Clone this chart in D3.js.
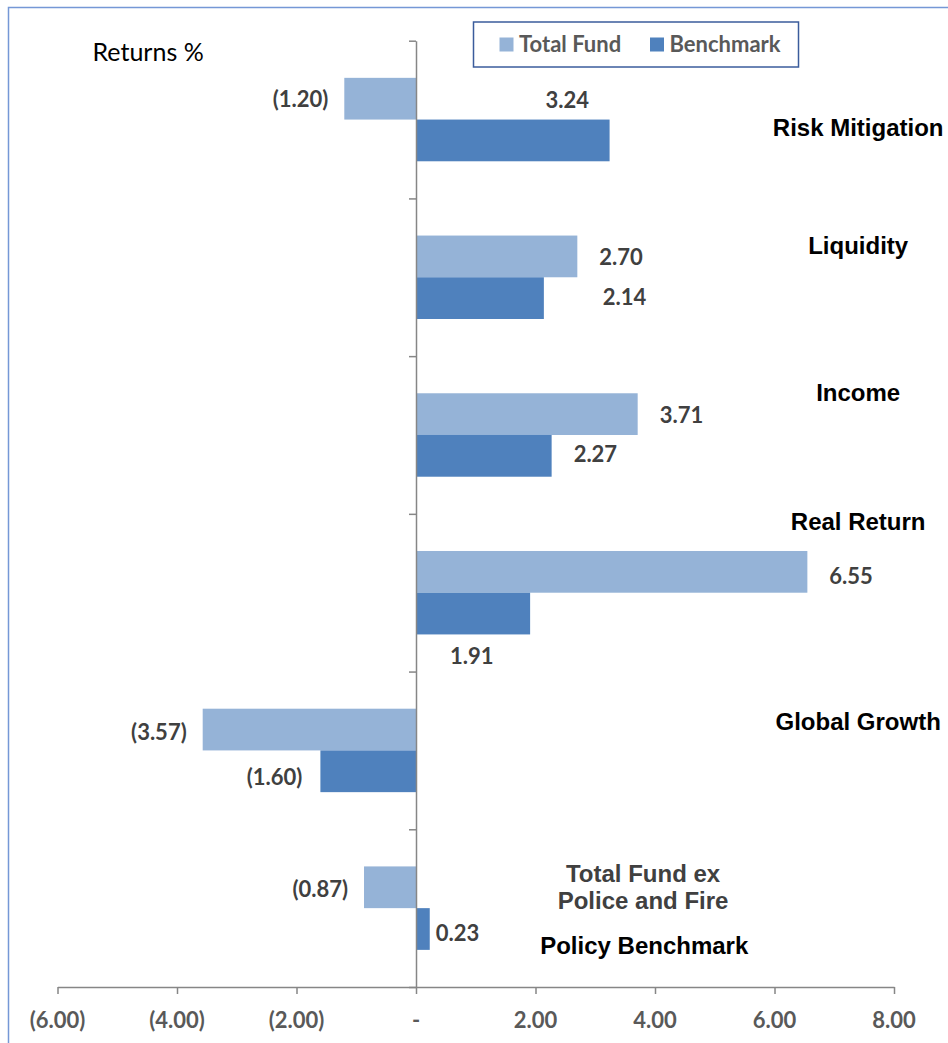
<!DOCTYPE html>
<html>
<head>
<meta charset="utf-8">
<script src="https://cdn.jsdelivr.net/npm/d3@7/dist/d3.min.js"></script>
<style>
  html, body { margin: 0; padding: 0; background: #fff; }
  svg { display: block; }
  .axis path, .axis line { stroke: #868686; stroke-width: 1.5; }
  .tick-label { font-family: Lato, sans-serif; font-weight: bold; font-size: 22px; fill: #595959; }
  .val-label { font-family: Lato, sans-serif; font-weight: bold; font-size: 22px; fill: #404040; }
  .cat-label { font-family: "Liberation Sans", Arial, sans-serif; font-weight: bold; font-size: 24px; fill: #000; }
</style>
</head>
<body>
<div id="chart"></div>
<script>
// Data.
var categories = ['Risk Mitigation', 'Liquidity', 'Income', 'Real Return', 'Global Growth', 'Total Fund ex Police and Fire'];
var totalFund = [-1.20, 2.70, 3.71, 6.55, -3.57, -0.87];
var benchmark = [3.24, 2.14, 2.27, 1.91, -1.60, 0.23];
var seriesNames = ['Total Fund', 'Benchmark'];
var xTicks = [-6, -4, -2, 0, 2, 4, 6, 8];

// Hand placed label nudges (the original has manually moved labels).
var tfLabelShift = [[-16, 1], [22, 1], [22, 1], [22, 4], [-16, 3], [-16, 2]];
var bmLabelShift = [[-64, -40], [59, -1], [22, -2], [-80, 43], [-18, 6], [6, 4]];
var catLabelDy = [8, -32, -42, -71, -29, -35];

var colors = {'Total Fund': '#95B3D7', 'Benchmark': '#4F81BD'};

var width = 948, height = 1043;
var svg = d3.select('#chart').append('svg')
    .attr('width', width)
    .attr('height', height);

// Chart frame (runs off the right and bottom of the picture).
svg.append('rect')
    .attr('x', 8.5).attr('y', 7.5)
    .attr('width', 1000).attr('height', 1100)
    .attr('fill', 'none')
    .attr('stroke', '#7598D6')
    .attr('stroke-width', 1.5);

var x = d3.scaleLinear().domain([-6, 8]).range([57.5, 894]);
var y0 = d3.scaleBand().domain(categories).range([40.7, 987]).paddingInner(0).paddingOuter(0);
var y1 = d3.scaleBand().domain(seriesNames).range([0, y0.bandwidth()]).paddingInner(0).paddingOuter(0.89);

var fmt = function(v) {
    if (v === 0) return '-';
    var s = d3.format('.2f')(Math.abs(v));
    return v < 0 ? '(' + s + ')' : s;
};

// Bars.
var rows = categories.map(function(c, i) {
    return {cat: c, i: i, values: [
        {series: 'Total Fund', value: totalFund[i], shift: tfLabelShift[i]},
        {series: 'Benchmark', value: benchmark[i], shift: bmLabelShift[i]}
    ]};
});

var groups = svg.selectAll('g.cat')
    .data(rows)
    .enter().append('g')
    .attr('class', 'cat')
    .attr('transform', function(d) { return 'translate(0,' + y0(d.cat) + ')'; });

groups.selectAll('rect')
    .data(function(d) { return d.values; })
    .enter().append('rect')
    .attr('x', function(d) { return x(Math.min(0, d.value)); })
    .attr('y', function(d) { return y1(d.series); })
    .attr('width', function(d) { return Math.abs(x(d.value) - x(0)); })
    .attr('height', y1.bandwidth())
    .attr('fill', function(d) { return colors[d.series]; });

groups.selectAll('text.val-label')
    .data(function(d) { return d.values; })
    .enter().append('text')
    .attr('class', 'val-label')
    .attr('x', function(d) { return x(d.value) + d.shift[0]; })
    .attr('y', function(d) { return y1(d.series) + y1.bandwidth() / 2 + d.shift[1] + 7.8; })
    .attr('text-anchor', function(d) { return d.value < 0 ? 'end' : 'start'; })
    .text(function(d) { return fmt(d.value); });

// Category labels on the right.
var lastCat = categories.length - 1;
groups.append('text')
    .attr('class', 'cat-label')
    .attr('text-anchor', 'middle')
    .attr('x', function(d) { return d.i === lastCat ? x(3.8) : x(7.4); })
    .attr('y', function(d) { return y0.bandwidth() / 2 + catLabelDy[d.i] + 8.5; })
    .style('fill', function(d) { return d.i === lastCat ? '#404040' : '#000'; })
    .each(function(d) {
        var t = d3.select(this);
        var lines = d.i === lastCat ? ['Total Fund ex', 'Police and Fire'] : [d.cat];
        lines.forEach(function(l, k) {
            t.append('tspan')
                .attr('x', t.attr('x'))
                .attr('dy', k === 0 ? 0 : 27.4)
                .text(l);
        });
    });

// Policy benchmark note under the last category.
svg.append('text')
    .attr('class', 'cat-label')
    .attr('text-anchor', 'middle')
    .attr('x', x(3.82))
    .attr('y', y0(categories[lastCat]) + y0.bandwidth() / 2 + 37 + 8.5)
    .text('Policy Benchmark');

// X axis.
var xAxis = d3.axisBottom(x)
    .tickValues(xTicks)
    .tickSize(7)
    .tickSizeOuter(0)
    .tickFormat('');
svg.append('g')
    .attr('class', 'axis')
    .attr('transform', 'translate(0,' + y0.range()[1] + ')')
    .call(xAxis);

svg.selectAll('text.tick-label')
    .data(xTicks)
    .enter().append('text')
    .attr('class', 'tick-label')
    .attr('x', function(d) { return x(d); })
    .attr('y', 1027.5)
    .attr('text-anchor', 'middle')
    .text(fmt);

// Vertical axis at zero, ticks at the category boundaries.
var yEdges = d3.scaleLinear().domain([0, categories.length]).range(y0.range());
var yAxis = d3.axisLeft(yEdges)
    .ticks(categories.length)
    .tickSize(7)
    .tickSizeOuter(0)
    .tickFormat('');
svg.append('g')
    .attr('class', 'axis')
    .attr('transform', 'translate(' + x(0) + ',0)')
    .call(yAxis);

// Axis title.
svg.append('text')
    .attr('x', 92.5)
    .attr('y', 60.5)
    .style('font-family', 'Lato, sans-serif')
    .style('font-size', '25px')
    .style('fill', '#000')
    .text('Returns %');

// Legend.
var legend = svg.append('g');
legend.append('rect')
    .attr('x', 473.5).attr('y', 22)
    .attr('width', 325).attr('height', 45)
    .attr('fill', '#fff')
    .attr('stroke', '#3B5C9C')
    .attr('stroke-width', 1.5);
var legendX = [499.5, 650];
seriesNames.forEach(function(s, i) {
    legend.append('rect')
        .attr('x', legendX[i]).attr('y', 37.5)
        .attr('width', 14).attr('height', 14)
        .attr('fill', colors[s]);
    legend.append('text')
        .attr('class', 'tick-label')
        .attr('x', legendX[i] + 19.5)
        .attr('y', 51.5)
        .text(s);
});
</script>
</body>
</html>
